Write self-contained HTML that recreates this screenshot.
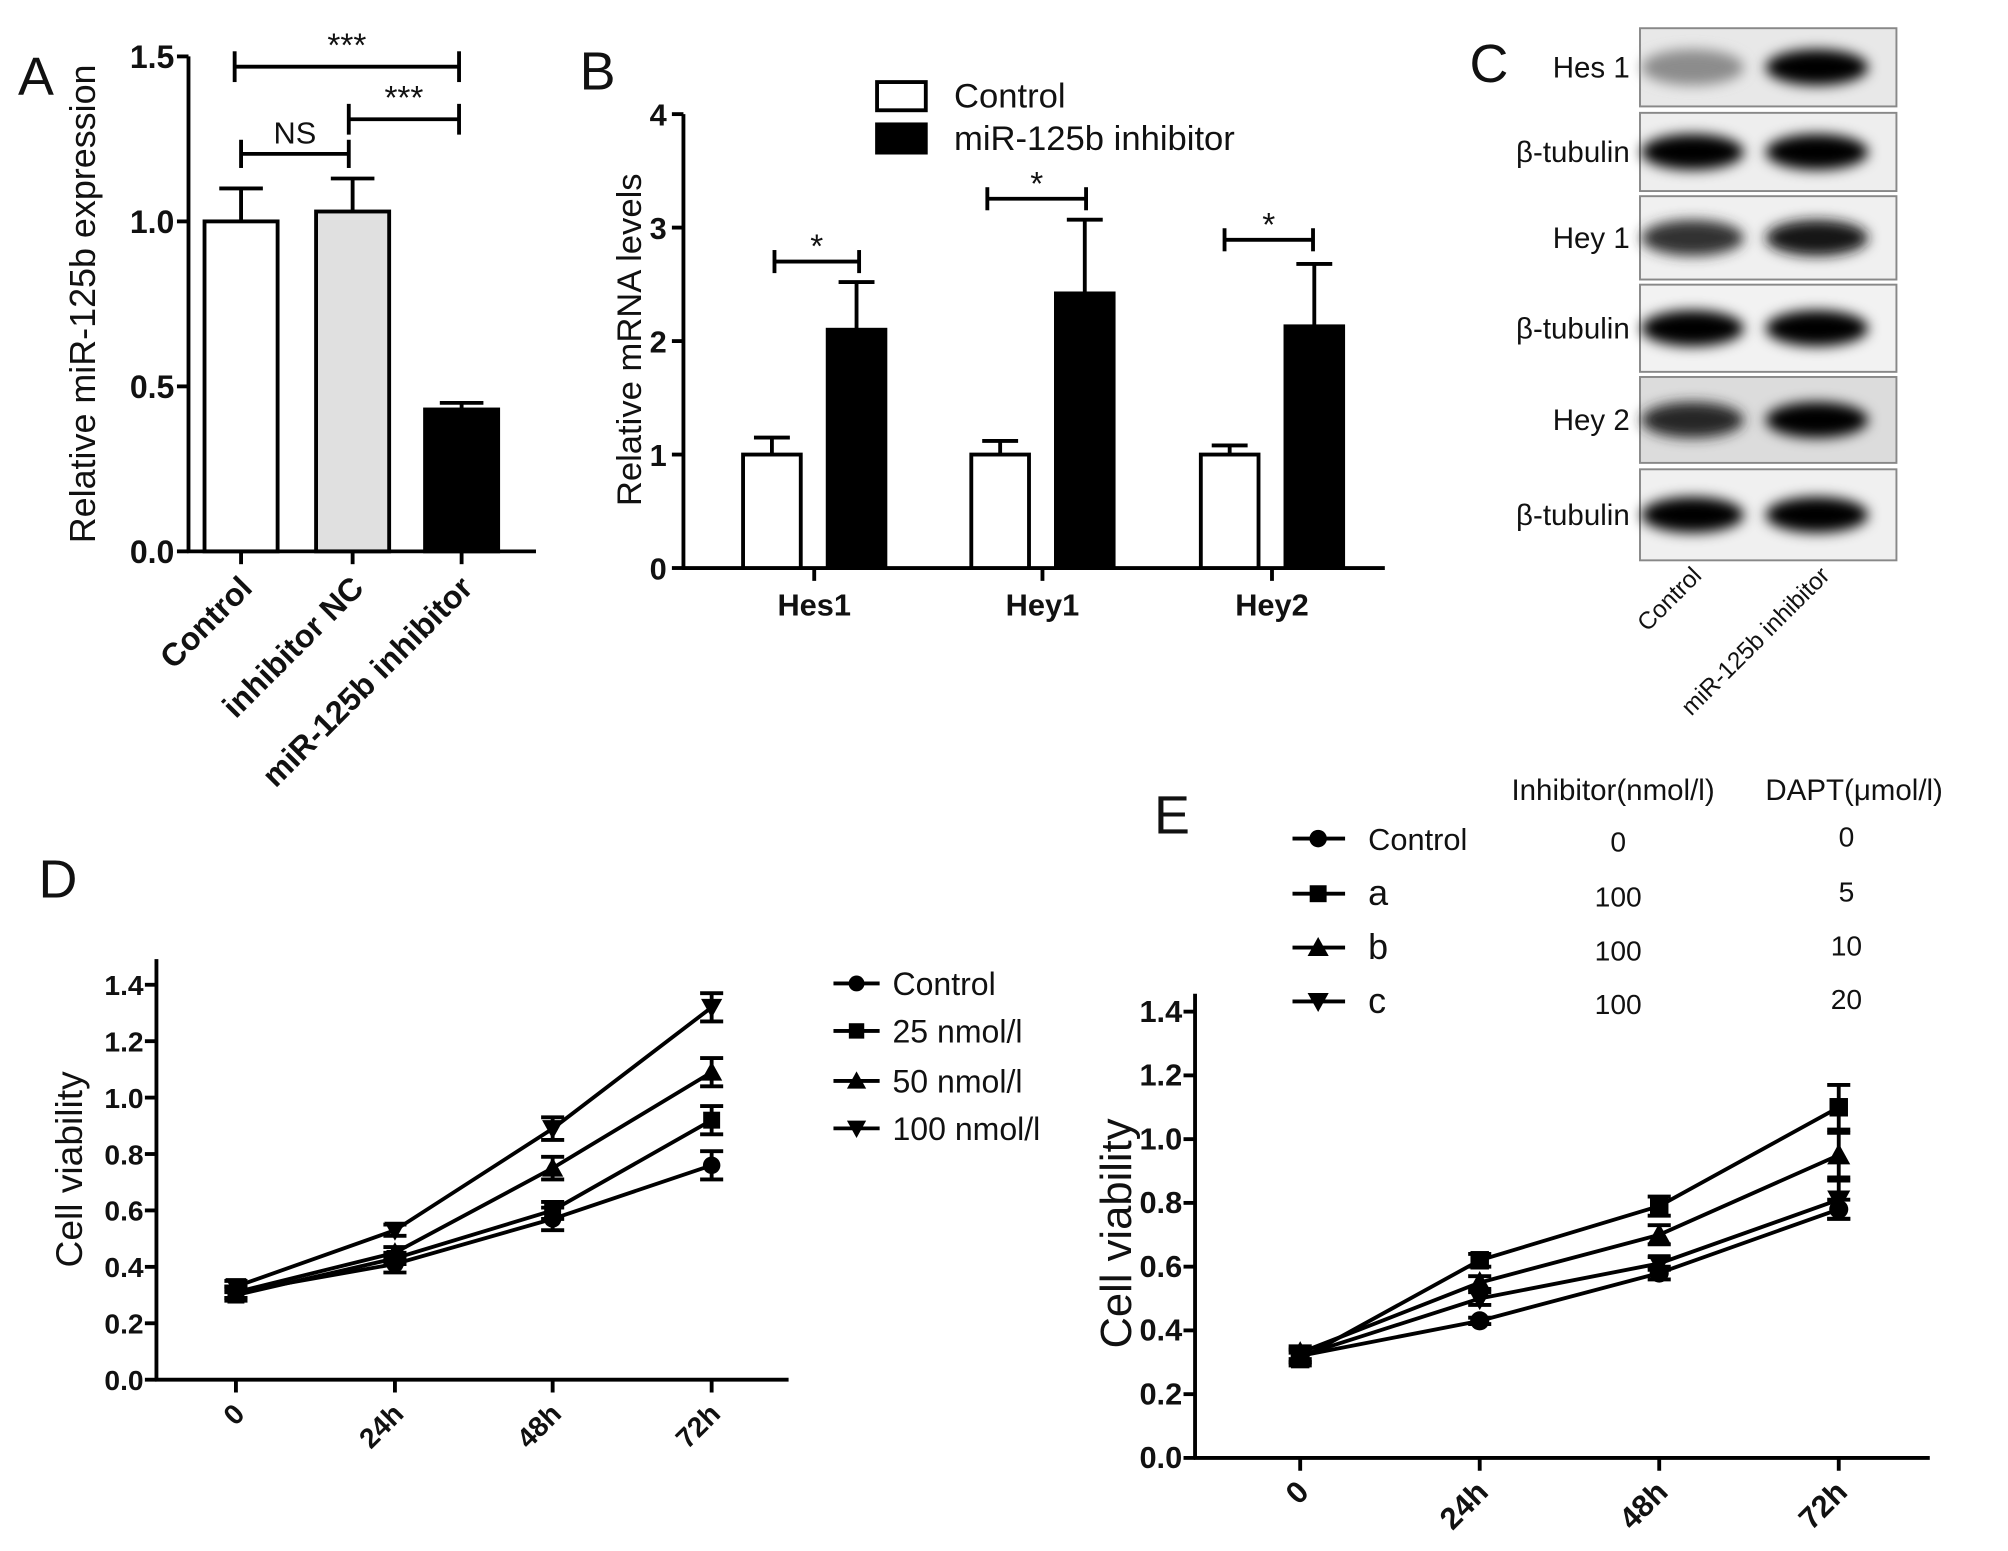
<!DOCTYPE html>
<html><head><meta charset="utf-8"><style>
html,body{margin:0;padding:0;background:#fff;}
svg{display:block;font-family:"Liberation Sans",Arial,sans-serif;}
</style></head><body>
<svg id="fig" width="2008" height="1551" viewBox="0 0 1566 1209.6" xmlns="http://www.w3.org/2000/svg">
<defs>
<filter id="blur" x="-30%" y="-80%" width="160%" height="260%"><feGaussianBlur stdDeviation="5"/></filter>
</defs>
<g id="root"></g>
</svg>
<script>
// ---- Panel A data ----
const aCats = ["Control","inhibitor NC","miR-125b inhibitor"];
const aVals = [1.0, 1.03, 0.43];
const aErrs = [0.10, 0.10, 0.02];
const aFills = ["#fff","#e0e0e0","#000"];
const aTicks = ["0.0","0.5","1.0","1.5"];
// ---- Panel B data ----
const bCats = ["Hes1","Hey1","Hey2"];
const bControl = [1.0, 1.0, 1.0];
const bControlErr = [0.15, 0.12, 0.08];
const bInhib = [2.1, 2.42, 2.13];
const bInhibErr = [0.42, 0.65, 0.55];
const bTicks = ["0","1","2","3","4"];
// ---- Panel D data ----
const dCats = ["0","24h","48h","72h"];
const dControl = [0.31, 0.41, 0.57, 0.76];
const d25 = [0.30, 0.43, 0.60, 0.92];
const d50 = [0.31, 0.45, 0.75, 1.09];
const d100 = [0.33, 0.53, 0.89, 1.32];
const dErr = [0.02, 0.03, 0.04, 0.05];
const dLegend = ["Control","25 nmol/l","50 nmol/l","100 nmol/l"];
const yTicks = ["0.0","0.2","0.4","0.6","0.8","1.0","1.2","1.4"];
// ---- Panel E data ----
const eCats = ["0","24h","48h","72h"];
const eControl = [0.32, 0.43, 0.58, 0.78];
const eA = [0.31, 0.62, 0.79, 1.10];
const eB = [0.33, 0.55, 0.70, 0.95];
const eC = [0.32, 0.50, 0.61, 0.81];
const eErr = [0.02, 0.02, 0.03, 0.07];
const eLegend = ["Control","a","b","c"];
const eInhib = ["0","100","100","100"];
const eDapt = ["0","5","10","20"];

const NS="http://www.w3.org/2000/svg";
const root=document.getElementById('root');
function el(tag,attrs,parent,text){const e=document.createElementNS(NS,tag);for(const k in attrs)e.setAttribute(k,attrs[k]);if(text!==undefined)e.textContent=text;(parent||root).appendChild(e);return e;}
function line(x1,y1,x2,y2,w,p){return el('line',{x1,y1,x2,y2,stroke:'#000','stroke-width':w||3},p);}
function txt(x,y,s,size,opts,p){const o=Object.assign({x,y,'font-size':size,fill:'#111'},opts||{});return el('text',o,p,s);}

[["A",14,74],["B",452,70],["C",1146,64],["D",30,700],["E",900,650]].forEach(([l,x,y])=>{
 const t=txt(x,y,l,42);
 
 
});

// ===== Panel A =====
(function(){
 const g=el('g',{});
 
 
 const y0=430, y1=44, vmax=1.5;
 const Y=v=>y0-(y0-y1)*v/vmax;
 const xc=[188,275,360], bw=57;
 line(147,y1,147,y0+1,3,g); line(146,y0,418,y0,3,g);
 aTicks.forEach(t=>{const yy=Y(parseFloat(t));line(138,yy,147,yy,3,g);
  const l=txt(136,yy+9,t,25,{'text-anchor':'end','font-weight':'bold'},g);
  
  });
 aCats.forEach((c,i)=>{
  const x=xc[i];
  line(x,Y(aVals[i]),x,Y(aVals[i]+aErrs[i]),3,g);
  line(x-17,Y(aVals[i]+aErrs[i]),x+17,Y(aVals[i]+aErrs[i]),3,g);
  const r=el('rect',{x:x-bw/2,y:Y(aVals[i]),width:bw,height:y0-Y(aVals[i]),fill:aFills[i],stroke:'#000','stroke-width':3},g);
  
  
  line(x,y0,x,y0+10,3,g);
  const l=txt(0,0,c,25,{'text-anchor':'end','font-weight':'bold',transform:`translate(${x+10},${y0+30}) rotate(-45)`},g);
  
  
 });
 function br(xa,xb,y,lab,h,size){line(xa,y,xb,y,3,g);line(xa,y-h,xa,y+h,3,g);line(xb,y-h,xb,y+h,3,g);
  const t=txt((xa+xb)/2,y-8,lab,size,{'text-anchor':'middle'},g);
  
  }
 br(183,358,52,"***",12,26); br(272,358,93,"***",12,26); br(188,272,120,"NS",11,24);
 const yt=txt(0,0,"Relative miR-125b expression",28,{'text-anchor':'middle',transform:'translate(74,237) rotate(-90)'},g);
 
 
})();

// ===== Panel B =====
(function(){
 const g=el('g',{});
 
 
 const y0=443, y1=89, vmax=4;
 const Y=v=>y0-(y0-y1)*v/vmax;
 const xc=[635,813,992], bw=45, off=33;
 line(533,y1,533,y0+1,3,g); line(532,y0,1080,y0,3,g);
 bTicks.forEach(t=>{const yy=Y(parseFloat(t));line(524,yy,533,yy,3,g);
  const l=txt(520,yy+9,t,24,{'text-anchor':'end','font-weight':'bold'},g);
  
  });
 bCats.forEach((c,i)=>{
  const sets=[[bControl[i],bControlErr[i],'#fff',xc[i]-off,'control'],[bInhib[i],bInhibErr[i],'#000',xc[i]+off,'inhibitor']];
  sets.forEach(([v,e,f,x,n])=>{
   line(x,Y(v),x,Y(v+e),3,g); line(x-14,Y(v+e),x+14,Y(v+e),3,g);
   const r=el('rect',{x:x-bw/2,y:Y(v),width:bw,height:y0-Y(v),fill:f,stroke:'#000','stroke-width':3},g);
   
   
  });
  line(xc[i],y0,xc[i],y0+10,3,g);
  const l=txt(xc[i],y0+37,c,24,{'text-anchor':'middle','font-weight':'bold'},g);
  
  
 });
 function br(xa,xb,y,h){line(xa,y,xb,y,3,g);line(xa,y-h,xa,y+h,3,g);line(xb,y-h,xb,y+h,3,g);
  const t=txt((xa+xb)/2,y-3,"*",26,{'text-anchor':'middle'},g);
  
  }
 br(604,670,204,9); br(770,847,155,9); br(955,1024,187,9);
 const yt=txt(0,0,"Relative mRNA levels",27,{'text-anchor':'middle',transform:'translate(500,265) rotate(-90)'},g);
 
 
 const lg=el('g',{},g);
 
 
 el('rect',{x:684,y:64,width:38,height:22,fill:'#fff',stroke:'#000','stroke-width':3},lg);
 el('rect',{x:684,y:97,width:38,height:22,fill:'#000',stroke:'#000','stroke-width':3},lg);
 txt(744,84,"Control",27,{},lg); txt(744,117,"miR-125b inhibitor",27,{},lg);
})();

// ===== Panel C (western blot) =====
(function(){
 const g=el('g',{});
 
 
 const rows=[["Hes 1",22,83,[0.45,1.0],"#e8e8e8"],["β-tubulin",88,149,[1,1],"#eeeeee"],["Hey 1",153,218,[0.8,0.9],"#f0f0f0"],["β-tubulin",222,290,[1,1],"#f2f2f2"],["Hey 2",294,361,[0.85,1],"#dcdcdc"],["β-tubulin",366,437,[1,1],"#f0f0f0"]];
 rows.forEach(([lab,ya,yb,ints,bg],i)=>{
  const r=el('rect',{x:1279,y:ya,width:200,height:yb-ya,fill:bg,stroke:'#888','stroke-width':1.5},g);
  
  
  const cy=(ya+yb)/2;
  [1320,1417].forEach((cx,j)=>{
   const v=Math.round(255*(1-ints[j]));
   el('ellipse',{cx,cy,rx:40,ry:14,fill:`rgb(${v},${v},${v})`,filter:'url(#blur)'},g);
  });
  const t=txt(1271,cy+8,lab,23,{'text-anchor':'end'},g);
  
  
 });
 [["Control",1328],["miR-125b inhibitor",1428]].forEach(([s,x])=>{
  const t=txt(0,0,s,19,{'text-anchor':'end',transform:`translate(${x},${450}) rotate(-45)`},g);
  
  
 });
})();

function marker(g,shape,x,y,s){
 if(shape==='circle')el('circle',{cx:x,cy:y,r:s*0.62,fill:'#000'},g);
 else if(shape==='square')el('rect',{x:x-s*0.6,y:y-s*0.6,width:s*1.2,height:s*1.2,fill:'#000'},g);
 else if(shape==='up')el('polygon',{points:`${x},${y-s*0.75} ${x-s*0.75},${y+s*0.6} ${x+s*0.75},${y+s*0.6}`,fill:'#000'},g);
 else el('polygon',{points:`${x},${y+s*0.75} ${x-s*0.75},${y-s*0.6} ${x+s*0.75},${y-s*0.6}`,fill:'#000'},g);
}
function lineChart(g,cfg,series,cats){
 const Y=v=>cfg.y0-v*cfg.ppu;
 line(cfg.x0,cfg.ytop,cfg.x0,cfg.y0+1,3,g); line(cfg.x0-1,cfg.y0,cfg.xend,cfg.y0,3,g);
 yTicks.forEach(t=>{const yy=Y(parseFloat(t));line(cfg.x0-9,yy,cfg.x0,yy,3,g);
  const l=txt(cfg.x0-10,yy+8,t,cfg.fs,{'text-anchor':'end','font-weight':'bold'},g);
  
  });
 cats.forEach((c,i)=>{const x=cfg.xs[i];line(x,cfg.y0,x,cfg.y0+10,3,g);
  const l=txt(0,0,c,cfg.fs,{'text-anchor':'end','font-weight':'bold',transform:`translate(${x+8},${cfg.y0+28}) rotate(-45)`},g);
  
  });
 series.forEach(([name,vals,shape,err])=>{
  const sg=el('g',{},g);
  
  
  el('polyline',{points:vals.map((v,i)=>cfg.xs[i]+','+Y(v)).join(' '),fill:'none',stroke:'#000','stroke-width':3},sg);
  vals.forEach((v,i)=>{const x=cfg.xs[i];const e=err[i];
   line(x,Y(v-e),x,Y(v+e),3,sg);line(x-9,Y(v+e),x+9,Y(v+e),3,sg);line(x-9,Y(v-e),x+9,Y(v-e),3,sg);
   marker(sg,shape,x,Y(v),cfg.ms);});
 });
}

// ===== Panel D =====
(function(){
 const g=el('g',{});
 
 
 const cfg={x0:122,y0:1076,ppu:220,ytop:748,xend:615,xs:[184,308,431,555],fs:22,ms:11};
 lineChart(g,cfg,[["control",dControl,'circle',dErr],["25-nmol",d25,'square',[0.02,0.02,0.03,0.05]],["50-nmol",d50,'up',[0.02,0.02,0.04,0.05]],["100-nmol",d100,'down',[0.02,0.02,0.04,0.05]]],dCats);
 const yt=txt(0,0,"Cell viability",29,{'text-anchor':'middle',transform:'translate(64,912) rotate(-90)'},g);
 
 
 const shapes=['circle','square','up','down'];
 const lys=[767,804,843,880];
 dLegend.forEach((s,i)=>{
  const lg=el('g',{},g);
  
  
  line(650,lys[i],686,lys[i],3,lg); marker(lg,shapes[i],668,lys[i],10);
  txt(696,lys[i]+9,s,25,{},lg);
 });
})();

// ===== Panel E =====
(function(){
 const g=el('g',{});
 
 
 const cfg={x0:932,y0:1137,ppu:248.6,ytop:775,xend:1505,xs:[1014,1154,1294,1434],fs:24,ms:12};
 lineChart(g,cfg,[["control",eControl,'circle',[0.02,0.01,0.02,0.03]],["a",eA,'square',eErr],["b",eB,'up',eErr],["c",eC,'down',[0.02,0.02,0.02,0.06]]],eCats);
 const yt=txt(0,0,"Cell viability",34,{'text-anchor':'middle',transform:'translate(882,962) rotate(-90)'},g);
 
 
 txt(1258,624,"Inhibitor(nmol/l)",23,{'text-anchor':'middle'},g);
 txt(1446,624,"DAPT(μmol/l)",23,{'text-anchor':'middle'},g);
 const shapes=['circle','square','up','down'];
 const lys=[654,697,739,781];
 eLegend.forEach((s,i)=>{
  const lg=el('g',{},g);
  
  
  line(1008,lys[i],1049,lys[i],3,lg); marker(lg,shapes[i],1028,lys[i],11);
  txt(1067,lys[i]+9,s,i===0?24:28,{},lg);
  txt(1262,lys[i]+10,eInhib[i],22,{'text-anchor':'middle'},lg);
  txt(1440,lys[i]+6,eDapt[i],22,{'text-anchor':'middle'},lg);
 });
})();
</script>
</body></html>
